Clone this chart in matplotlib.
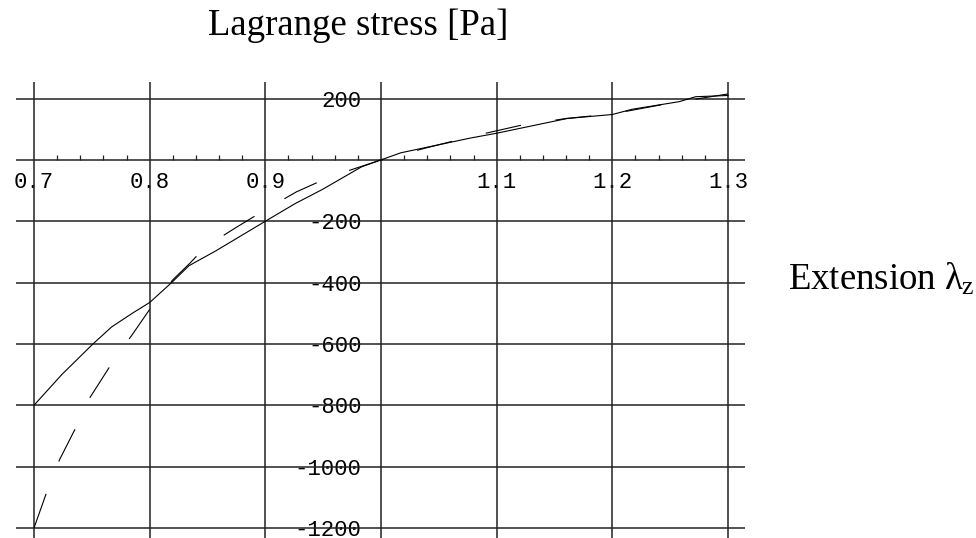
import numpy as np
import matplotlib
matplotlib.use("Agg")
import matplotlib.pyplot as plt

plt.rcParams['mathtext.fontset'] = 'custom'
plt.rcParams['mathtext.rm'] = 'Liberation Serif'
plt.rcParams['mathtext.it'] = 'Liberation Serif'
plt.rcParams['lines.scale_dashes'] = False

# solid curve
solid_x = [0.700, 0.724, 0.751, 0.767, 0.785, 0.800, 0.819, 0.834, 0.857, 0.900,
           0.926, 0.949, 0.983, 1.000, 1.017, 1.077, 1.100, 1.161, 1.200, 1.217,
           1.258, 1.272, 1.300]
solid_y = [-800, -700, -600, -545, -500, -465, -400, -345, -297, -200,
           -142, -97, -23, 0, 23, 71, 87, 135, 148, 165,
           190, 206, 210]

# dashed curve
dash_x = [0.700, 0.711, 0.722, 0.736, 0.747, 0.768, 0.786, 0.805, 0.820, 0.835,
          0.848, 0.874, 0.901, 0.927, 0.956, 1.000, 1.040, 1.080, 1.120, 1.160,
          1.200, 1.250, 1.300]
dash_y = [-1200, -1083, -978, -874, -783, -659, -564, -460, -391, -336,
          -284, -222, -160, -104, -55, 0, 40, 78, 112, 135,
          150, 185, 215]

x_ticks = [0.7, 0.8, 0.9, 1.0, 1.1, 1.2, 1.3]
x_labels = ["0.7", "0.8", "0.9", "", "1.1", "1.2", "1.3"]
y_ticks = [200, 0, -200, -400, -600, -800, -1000, -1200]
y_labels = ["200", "", "-200", "-400", "-600", "-800", "-1000", "-1200"]

fig = plt.figure(figsize=(9.76, 5.38), dpi=100)
ax = fig.add_axes([16/976, 0, 729/976, 456/538])

ax.plot(solid_x, solid_y, color="black", lw=0.8, zorder=4)
ax.plot(dash_x, dash_y, color="black", lw=0.8, dashes=(26, 25), zorder=4)

ax.set_xlim(0.6844, 1.3147)
ax.set_ylim(-1233, 254)

for s in ["top", "right"]:
    ax.spines[s].set_visible(False)
ax.spines["left"].set_position(("data", 1.0))
ax.spines["bottom"].set_position(("data", 0))
ax.spines["left"].set_visible(False)
ax.spines["bottom"].set_visible(False)

ax.set_xticks(x_ticks, x_labels)
ax.set_yticks(y_ticks, y_labels)
ax.set_xticks(np.arange(0.70, 1.3001, 0.02), minor=True)
ax.tick_params(which="major", length=0)
ax.tick_params(axis="x", which="major", pad=9)
ax.tick_params(axis="y", which="major", pad=14)
ax.tick_params(axis="x", which="minor", direction="in", length=3.5, width=0.9,
               color="#222222")
for lab in ax.get_xticklabels() + ax.get_yticklabels():
    lab.set_family("Liberation Mono")
    lab.set_fontsize(16)

# grid drawn above the tick labels, as in the original
for xv in x_ticks:
    ax.axvline(xv, color="#222222", lw=1.1, zorder=3)
for yv in y_ticks:
    ax.axhline(yv, color="#222222", lw=1.1, zorder=3)

fig.text(208/976, 1 - 35/538, "Lagrange stress [Pa]", family="Liberation Serif",
         fontsize=26.5, ha="left", va="baseline")
fig.text(788/976, 1 - 290/538, r"Extension $\lambda_\mathrm{z}$",
         family="Liberation Serif", fontsize=26.5, ha="left", va="baseline")

fig.savefig("out.png", dpi=100)
